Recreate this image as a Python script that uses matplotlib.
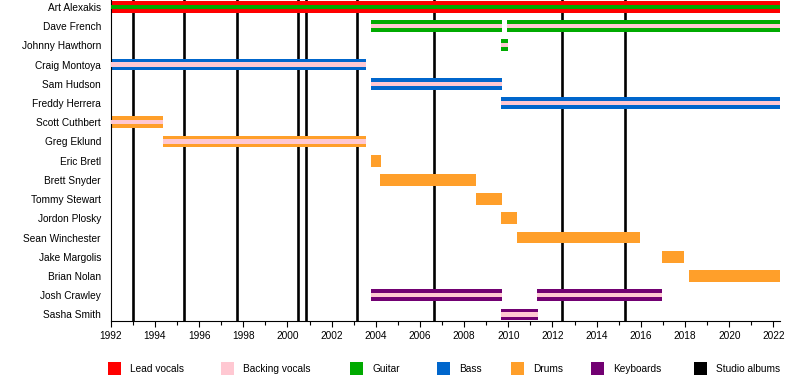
import matplotlib
matplotlib.use("Agg")
import matplotlib.pyplot as plt
from matplotlib.patches import Rectangle
from matplotlib.ticker import MultipleLocator

plt.rcParams['font.family'] = ['Liberation Sans', 'DejaVu Sans']

# band members, top to bottom
members = ['Art Alexakis', 'Dave French', 'Johnny Hawthorn', 'Craig Montoya',
           'Sam Hudson', 'Freddy Herrera', 'Scott Cuthbert', 'Greg Eklund',
           'Eric Bretl', 'Brett Snyder', 'Tommy Stewart', 'Jordon Plosky',
           'Sean Winchester', 'Jake Margolis', 'Brian Nolan', 'Josh Crawley',
           'Sasha Smith']

# membership periods (member index, start, end, role, inner stripe role)
bar_member = [0, 1, 1, 2, 3, 4, 5, 6, 7, 8, 9, 10, 11, 12, 13, 14, 15, 15, 16]
bar_start = [1992.0, 2003.78, 2009.93, 2009.66, 1992.0, 2003.78, 2009.66, 1992.0,
             1994.38, 2003.78, 2004.2, 2008.55, 2009.66, 2010.4, 2016.95, 2018.2,
             2003.78, 2011.3, 2009.66]
bar_end = [2022.3, 2009.7, 2022.3, 2009.98, 2003.54, 2009.7, 2022.3, 1994.38,
           2003.54, 2004.23, 2008.55, 2009.7, 2010.4, 2015.98, 2017.97, 2022.3,
           2009.7, 2016.97, 2011.33]
bar_role = ['lead', 'guitar', 'guitar', 'guitar', 'bass', 'bass', 'bass', 'drums',
            'drums', 'drums', 'drums', 'drums', 'drums', 'drums', 'drums', 'drums',
            'keys', 'keys', 'keys']
bar_stripe = ['guitar', 'backing', 'backing', 'backing', 'backing', 'backing', 'backing',
              'backing', 'backing', None, None, None, None, None, None, None,
              'backing', 'backing', 'backing']

# studio album release dates
albums = [1993.0, 1995.33, 1997.72, 2000.5, 2000.85, 2003.16, 2006.65, 2012.43, 2015.3]

colors = {'lead': '#FF0000', 'backing': '#FFC8D2', 'guitar': '#00AA00',
          'bass': '#0066CC', 'drums': '#FF9F2A', 'keys': '#720072',
          'albums': '#000000'}
legend_keys = ['lead', 'backing', 'guitar', 'bass', 'drums', 'keys', 'albums']
legend_labels = ['Lead vocals', 'Backing vocals', 'Guitar', 'Bass', 'Drums',
                 'Keyboards', 'Studio albums']

fig = plt.figure(figsize=(8, 3.8), dpi=100)
ax = fig.add_axes([0.1384, 0.1553, 0.975 - 0.1384, 1 - 0.1553])

for x in albums:
    ax.axvline(x, color='black', lw=1.9, zorder=1)

bh = 0.61
for m, s, e, r, st in zip(bar_member, bar_start, bar_end, bar_role, bar_stripe):
    ax.barh(m, e - s, left=s, height=bh, color=colors[r], lw=0, zorder=2)
    if st is not None:
        ax.barh(m, e - s, left=s, height=bh * 0.36, color=colors[st], lw=0, zorder=3)

ax.set_xlim(1992, 2022.3)
ax.set_ylim(16.34, -0.356)
ax.set_yticks(range(len(members)))
ax.set_yticklabels(members, fontsize=7.3)
ax.tick_params(axis='y', length=0, pad=7)
ax.xaxis.set_major_locator(MultipleLocator(2))
ax.xaxis.set_minor_locator(MultipleLocator(1))
ax.tick_params(axis='x', which='major', length=4, width=0.8, labelsize=7.3, pad=3)
ax.tick_params(axis='x', which='minor', length=3, width=0.8)
for side in ['top', 'right']:
    ax.spines[side].set_visible(False)
for side in ['left', 'bottom']:
    ax.spines[side].set_linewidth(0.8)

# legend row under the chart
sq_x = [107.7, 221, 350, 436.6, 510.7, 591.3, 694]
for k, lab, px in zip(legend_keys, legend_labels, sq_x):
    fig.add_artist(Rectangle((px / 800, 1 - 375 / 380), 13 / 800, 13 / 380,
                             transform=fig.transFigure, color=colors[k], lw=0))
    fig.text((px + 22.3) / 800, 1 - 368.7 / 380, lab, fontsize=7.3,
             va='center', ha='left')

fig.savefig('out.png', dpi=100)
